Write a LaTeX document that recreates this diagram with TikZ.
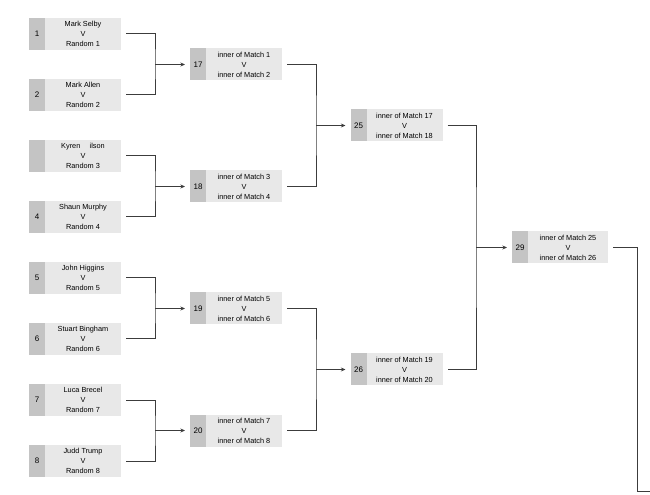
\documentclass[tikz,border=0pt]{standalone}
\usepackage{fontspec}
\setmainfont{Liberation Sans}
\usepackage{xcolor}
\usetikzlibrary{arrows.meta, positioning}

\definecolor{numgray}{HTML}{C4C4C4}
\definecolor{boxgray}{HTML}{E8E8E8}
\definecolor{linegray}{HTML}{3C3C3C}

\begin{document}
\begin{tikzpicture}[x=0.75pt, y=-0.75pt,
        numcell/.style={fill=numgray, minimum width=12pt, minimum height=24pt, inner sep=0pt, outer sep=0pt, font=\fontsize{6}{7.5}\selectfont},
        txtcell/.style={fill=boxgray, minimum width=57pt, minimum height=24pt, inner sep=0pt, outer sep=0pt, align=center, font=\fontsize{5.5}{7.5}\selectfont},
        conn/.style={draw=linegray, line width=0.75pt},
        feed/.style={conn, -{Stealth[length=3.5pt, width=3pt]}}]
        \useasboundingbox (0,0) rectangle (650,495);

        % First round
        \node[numcell] (n1) at (37,34) {1};
        \node[txtcell, right=0pt of n1] (m1) {Mark Selby\\V\\Random 1};
        \node[numcell] (n2) at (37,95) {2};
        \node[txtcell, right=0pt of n2] (m2) {Mark Allen\\V\\Random 2};
        \node[numcell] (n3) at (37,156) {};
        \node[txtcell, right=0pt of n3] (m3) {Kyren \quad ilson\\V\\Random 3};
        \node[numcell] (n4) at (37,217) {4};
        \node[txtcell, right=0pt of n4] (m4) {Shaun Murphy\\V\\Random 4};
        \node[numcell] (n5) at (37,278) {5};
        \node[txtcell, right=0pt of n5] (m5) {John Higgins\\V\\Random 5};
        \node[numcell] (n6) at (37,339) {6};
        \node[txtcell, right=0pt of n6] (m6) {Stuart Bingham\\V\\Random 6};
        \node[numcell] (n7) at (37,400) {7};
        \node[txtcell, right=0pt of n7] (m7) {Luca Brecel\\V\\Random 7};
        \node[numcell] (n8) at (37,461) {8};
        \node[txtcell, right=0pt of n8] (m8) {Judd Trump\\V\\Random 8};

        % Second round
        \node[numcell] (n17) at (198,64.5) {17};
        \node[txtcell, right=0pt of n17] (m17) {inner of Match 1\\V\\inner of Match 2};
        \node[numcell] (n18) at (198,186.5) {18};
        \node[txtcell, right=0pt of n18] (m18) {inner of Match 3\\V\\inner of Match 4};
        \node[numcell] (n19) at (198,308.5) {19};
        \node[txtcell, right=0pt of n19] (m19) {inner of Match 5\\V\\inner of Match 6};
        \node[numcell] (n20) at (198,430.5) {20};
        \node[txtcell, right=0pt of n20] (m20) {inner of Match 7\\V\\inner of Match 8};

        % Semi finals
        \node[numcell] (n25) at (358.5,125.5) {25};
        \node[txtcell, right=0pt of n25] (m25) {inner of Match 17\\V\\inner of Match 18};
        \node[numcell] (n26) at (358.5,369.5) {26};
        \node[txtcell, right=0pt of n26] (m26) {inner of Match 19\\V\\inner of Match 20};

        % Final
        \node[numcell] (n29) at (520,247.5) {29};
        \node[txtcell, minimum width=60pt, right=0pt of n29] (m29) {inner of Match 25\\V\\inner of Match 26};

        % Joins
        \coordinate (j17) at (155,64.5);
        \coordinate (j18) at (155,186.5);
        \coordinate (j19) at (155,308.5);
        \coordinate (j20) at (155,430.5);
        \coordinate (j25) at (316,125.5);
        \coordinate (j26) at (316,369.5);
        \coordinate (j29) at (476,247.5);
        \coordinate (j31) at (637,247.5);
        \coordinate (down) at (637,491);
        \coordinate (out) at (650,491);

        \draw[conn] ([xshift=3.75pt]m1.east) -| (j17) |- ([xshift=3.75pt]m2.east);
        \draw[feed] (j17) -- ([xshift=-3.75pt]n17.west);
        \draw[conn] ([xshift=3.75pt]m3.east) -| (j18) |- ([xshift=3.75pt]m4.east);
        \draw[feed] (j18) -- ([xshift=-3.75pt]n18.west);
        \draw[conn] ([xshift=3.75pt]m5.east) -| (j19) |- ([xshift=3.75pt]m6.east);
        \draw[feed] (j19) -- ([xshift=-3.75pt]n19.west);
        \draw[conn] ([xshift=3.75pt]m7.east) -| (j20) |- ([xshift=3.75pt]m8.east);
        \draw[feed] (j20) -- ([xshift=-3.75pt]n20.west);

        \draw[conn] ([xshift=3.75pt]m17.east) -| (j25) |- ([xshift=3.75pt]m18.east);
        \draw[feed] (j25) -- ([xshift=-3.75pt]n25.west);
        \draw[conn] ([xshift=3.75pt]m19.east) -| (j26) |- ([xshift=3.75pt]m20.east);
        \draw[feed] (j26) -- ([xshift=-3.75pt]n26.west);

        \draw[conn] ([xshift=3.75pt]m25.east) -| (j29) |- ([xshift=3.75pt]m26.east);
        \draw[feed] (j29) -- ([xshift=-3.75pt]n29.west);

        \draw[conn] ([xshift=3.75pt]m29.east) -- (j31) -- (down) -- (out);
    \end{tikzpicture}
\end{document}
